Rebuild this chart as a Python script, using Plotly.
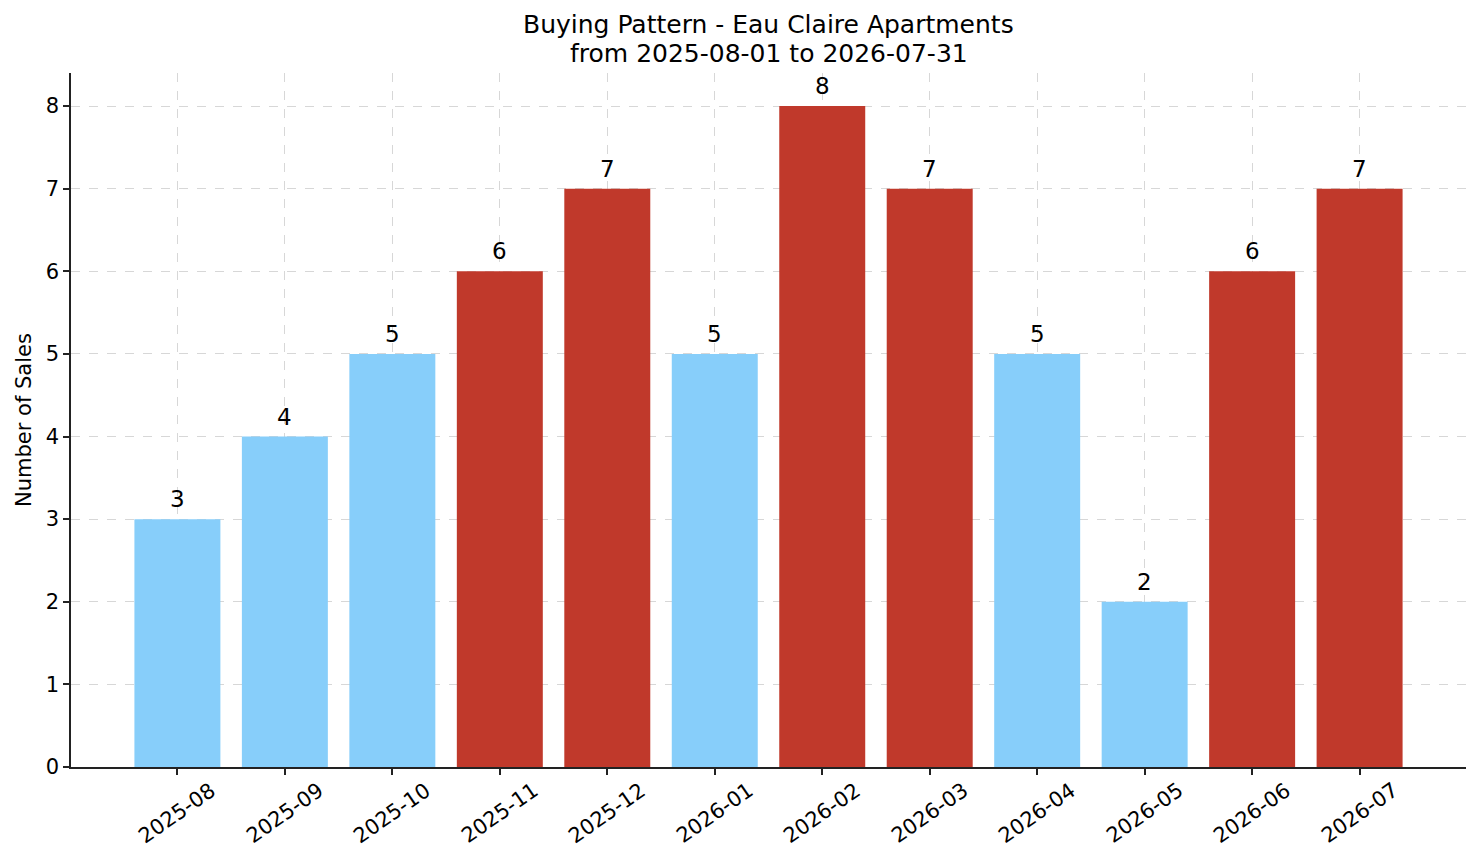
import plotly.graph_objects as go

months = ["2025-08", "2025-09", "2025-10", "2025-11", "2025-12", "2026-01",
          "2026-02", "2026-03", "2026-04", "2026-05", "2026-06", "2026-07"]
sales = [3, 4, 5, 6, 7, 5, 8, 7, 5, 2, 6, 7]

title_lines = ["Buying Pattern - Eau Claire Apartments",
               "from 2025-08-01 to 2026-07-31"]
y_label = "Number of Sales"

BLUE = "#87CEFA"
RED = "#C0392B"
FONT = "DejaVu Sans"

avg = sum(sales) / len(sales)
colors = [RED if v > avg else BLUE for v in sales]
xs = list(range(len(months)))

fig = go.Figure()
fig.add_trace(go.Bar(
    x=xs, y=sales, width=0.8,
    marker=dict(color=colors, line=dict(width=0)),
    hoverinfo="skip",
))

# value labels above bars
for i, v in zip(xs, sales):
    fig.add_annotation(x=i, y=v, text=str(v), showarrow=False,
                       yanchor="bottom", yshift=5,
                       font=dict(family=FONT, size=23, color="black"))

# rotated month labels, centred on the ticks like matplotlib
for i, m in zip(xs, months):
    fig.add_annotation(x=i, y=0, xref="x", yref="y", text=m, showarrow=False,
                       textangle=-35, yanchor="middle", xanchor="center",
                       yshift=-46,
                       font=dict(family=FONT, size=21, color="black"))

fig.add_annotation(x=-0.0337, y=0.5, xref="paper", yref="paper", text=y_label,
                   showarrow=False, textangle=-90, xanchor="center", yanchor="middle",
                   font=dict(family=FONT, size=21, color="black"))

# two-line title
for txt, ty in zip(title_lines, [1.0692, 1.0274]):
    fig.add_annotation(x=0.5, y=ty, xref="paper", yref="paper", text=txt,
                       showarrow=False, xanchor="center", yanchor="middle",
                       font=dict(family=FONT, size=25, color="black"))

grid = "rgba(176,176,176,0.5)"
fig.update_layout(
    width=1473, height=855,
    margin=dict(l=63, r=15, t=65, b=96),
    paper_bgcolor="white", plot_bgcolor="white",
    showlegend=False,
    font=dict(family=FONT, size=21, color="black"),
    xaxis=dict(
        range=[-0.99, 11.99], tickvals=xs, ticktext=[""] * len(xs),
        showline=True, linecolor="#222", linewidth=1.5,
        ticks="outside", ticklen=6, tickwidth=1.5, tickcolor="#222",
        showgrid=True, gridcolor=grid, griddash="dash", gridwidth=1,
        zeroline=False, layer="above traces",
    ),
    yaxis=dict(
        range=[0, 8.4], dtick=1, tick0=0,
        showline=True, linecolor="#222", linewidth=1.5,
        ticks="outside", ticklen=6, tickwidth=1.5, tickcolor="#222",
        showgrid=True, gridcolor=grid, griddash="dash", gridwidth=1,
        zeroline=False, layer="above traces",
        tickfont=dict(family=FONT, size=21, color="black"),
    ),
)

fig.write_html("out.html")
